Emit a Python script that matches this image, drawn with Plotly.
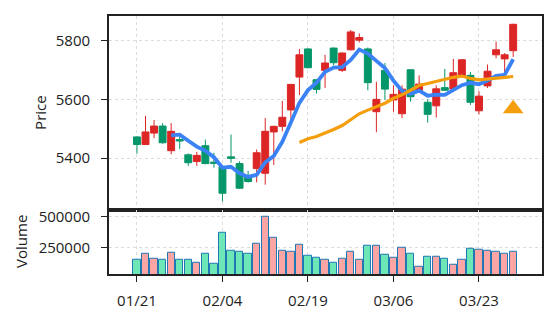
import plotly.graph_objects as go
import pandas as pd

# ---- data ----
opens = [5472, 5446, 5485, 5509, 5425, 5463, 5411, 5388, 5442, 5386, 5370, 5404, 5381, 5340, 5364,
         5348, 5489, 5508, 5564, 5676, 5772, 5667, 5699, 5775, 5699, 5769, 5802, 5772, 5558, 5699,
         5598, 5551, 5701, 5631, 5590, 5578, 5640, 5635, 5679, 5682, 5561, 5646, 5752, 5738, 5766]
highs = [5474, 5544, 5530, 5519, 5519, 5480, 5416, 5421, 5463, 5418, 5373, 5480, 5389, 5356, 5429,
         5536, 5510, 5595, 5653, 5772, 5774, 5669, 5752, 5777, 5760, 5837, 5825, 5777, 5660, 5724,
         5648, 5648, 5703, 5682, 5600, 5648, 5704, 5738, 5737, 5693, 5628, 5719, 5797, 5758, 5858]
lows = [5415, 5444, 5468, 5449, 5413, 5431, 5373, 5373, 5379, 5367, 5252, 5384, 5295, 5316, 5317,
        5309, 5376, 5491, 5530, 5615, 5706, 5620, 5639, 5716, 5693, 5767, 5794, 5631, 5488, 5598,
        5558, 5536, 5592, 5629, 5521, 5538, 5629, 5629, 5676, 5581, 5549, 5639, 5740, 5688, 5745]
closes = [5446, 5489, 5509, 5452, 5491, 5458, 5384, 5409, 5381, 5382, 5280, 5399, 5297, 5320, 5418,
          5491, 5508, 5539, 5651, 5752, 5708, 5634, 5724, 5725, 5758, 5830, 5811, 5657, 5600, 5635,
          5617, 5635, 5609, 5652, 5549, 5636, 5631, 5691, 5735, 5590, 5611, 5696, 5769, 5752, 5856]
volumes = [155000, 199000, 163000, 155000, 210000, 155000, 155000, 131000, 202000, 123000,
           369000, 226000, 218000, 197000, 282000, 495000, 329000, 226000, 218000, 274000,
           187000, 171000, 152000, 131000, 163000, 218000, 155000, 266000, 266000, 195000,
           171000, 252000, 202000, 100000, 179000, 179000, 163000, 115000, 155000, 242000,
           234000, 226000, 218000, 202000, 218000]
tick_idx = [0, 10, 20, 30, 40]
tick_labels = ["01/21", "02/04", "02/19", "03/06", "03/23"]
signal_idx = [44]
signal_price = [5568]

x = list(range(len(closes)))
ma5 = pd.Series(closes).rolling(5).mean()
ma20 = pd.Series(closes).rolling(20).mean()

UP, DOWN = "#dc2626", "#059669"
VUP, VDOWN = "#fca5a5", "#6ee7b7"
vol_colors = [VUP if c >= o else VDOWN for o, c in zip(opens, closes)]

FONT = "Open Sans"
FS = 15

fig = go.Figure()
fig.add_trace(go.Candlestick(
    x=x, open=opens, high=highs, low=lows, close=closes,
    increasing=dict(line=dict(color=UP, width=1), fillcolor=UP),
    decreasing=dict(line=dict(color=DOWN, width=1), fillcolor=DOWN),
    whiskerwidth=0, xaxis="x", yaxis="y", showlegend=False, hoverinfo="skip"))
fig.add_trace(go.Scatter(x=x, y=ma5, mode="lines", line=dict(color="#3b82f6", width=3.8),
                         xaxis="x", yaxis="y", showlegend=False))
fig.add_trace(go.Scatter(x=x, y=ma20, mode="lines", line=dict(color="#f59e0b", width=3.2),
                         xaxis="x", yaxis="y", showlegend=False))
fig.add_trace(go.Scatter(x=signal_idx, y=signal_price, mode="markers",
                         marker=dict(symbol="triangle-up", size=18, color="#f59e0b"),
                         xaxis="x", yaxis="y", showlegend=False))
fig.add_trace(go.Bar(x=x, y=volumes, marker=dict(color=vol_colors, line=dict(color="#1f77b4", width=1)),
                     width=0.85, xaxis="x2", yaxis="y2", showlegend=False))

grid = dict(showgrid=True, gridcolor="#dcdcdc", griddash="dot", gridwidth=1)
frame = dict(showline=True, linecolor="#222222", linewidth=1.8, mirror=True, zeroline=False)
xr = [-3.27, 47.37]
tickfont = dict(family=FONT, size=FS, color="#222222")

fig.update_layout(
    width=556, height=322,
    margin=dict(l=109, r=14, t=15, b=46),
    paper_bgcolor="white", plot_bgcolor="white",
    font=dict(family=FONT, size=FS, color="#222222"),
    bargap=0, boxgap=0.1, boxgroupgap=0.1,
    xaxis=dict(domain=[0, 1], anchor="y", range=xr, tickvals=tick_idx, ticktext=tick_labels,
               showticklabels=False, ticks="", rangeslider=dict(visible=False), matches="x2",
               **grid, **frame),
    yaxis=dict(domain=[0.249, 1], anchor="x", range=[5223.6, 5884.3], tickvals=[5400, 5600, 5800],
               ticks="outside", ticklen=6, tickwidth=1.3, tickcolor="#222222", tickfont=tickfont,
               ticklabelstandoff=8, **grid, **frame),
    xaxis2=dict(domain=[0, 1], anchor="y2", range=xr, tickvals=tick_idx, ticktext=tick_labels,
                ticks="outside", ticklen=6, tickwidth=1.3, tickcolor="#222222", tickfont=tickfont,
                ticklabelstandoff=6, **grid, **frame),
    yaxis2=dict(domain=[0, 0.249], anchor="x2", range=[38800, 553000], tickvals=[250000, 500000],
                tickformat="d", ticks="outside", ticklen=6, tickwidth=1.3, tickcolor="#222222",
                tickfont=tickfont, ticklabelstandoff=8, **grid, **frame),
    annotations=[
        dict(text="Price", xref="paper", yref="paper", x=0, y=(0.249 + 1) / 2, xshift=-69,
             xanchor="center", yanchor="middle", textangle=-90, showarrow=False,
             font=dict(family=FONT, size=FS, color="#222222")),
        dict(text="Volume", xref="paper", yref="paper", x=0, y=0.249 / 2, xshift=-88,
             xanchor="center", yanchor="middle", textangle=-90, showarrow=False,
             font=dict(family=FONT, size=FS, color="#222222")),
    ],
)

fig.write_html("out.html")
